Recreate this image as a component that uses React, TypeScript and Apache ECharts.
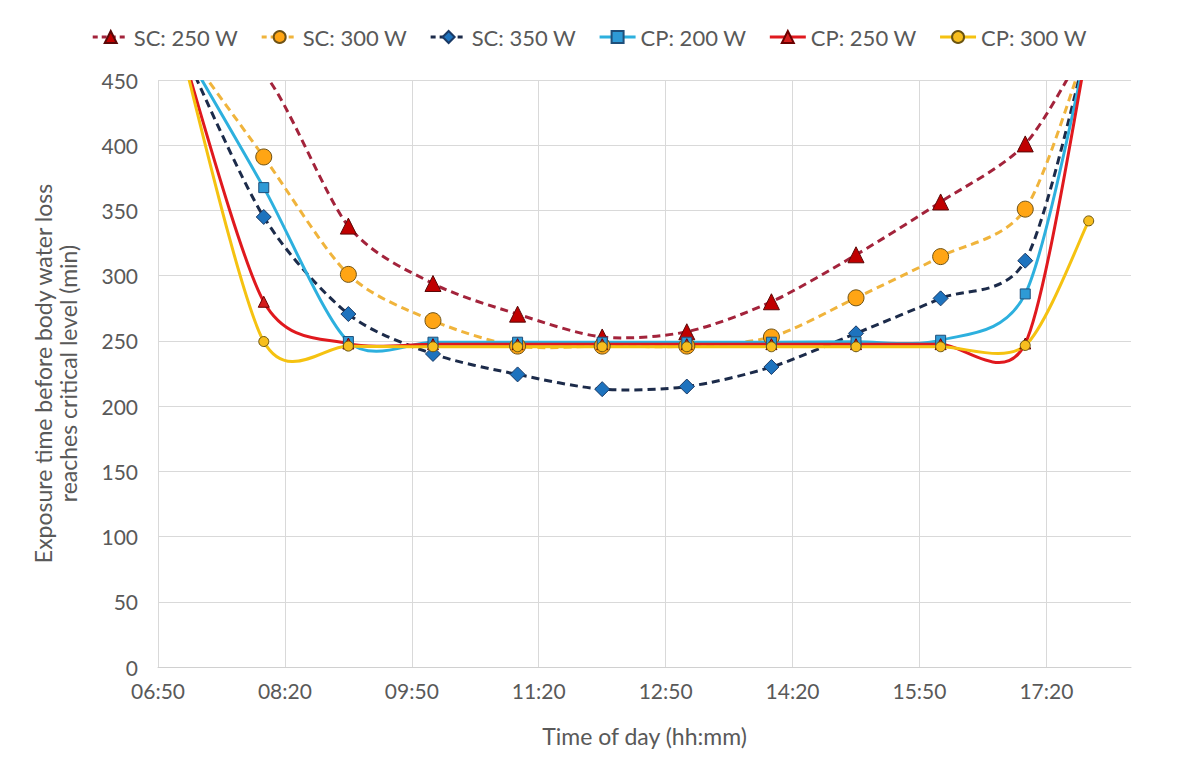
import React, { useEffect, useRef } from 'react';
import * as echarts from 'echarts';

// Sample times (hh:mm)
const timeLabels = ['07:05', '08:05', '09:05', '10:05', '11:05', '12:05', '13:05', '14:05', '15:05', '16:05', '17:05', '17:50'];

// Exposure time (min) per series
const sc250 = [480, 455, 338, 294, 270.5, 253, 257, 280, 316, 356.5, 401, 480];
const sc300 = [480, 391, 301, 265.5, 246, 246, 246, 253, 283, 314.6, 351, 480];
const sc350 = [480, 345, 270.6, 240, 224.3, 213, 215, 230, 255.8, 282.6, 311.5, 480];
const cp200 = [480, 367.5, 249.5, 249, 249, 249, 249, 249, 249.3, 250.5, 286, 480];
const cp250 = [480, 280, 248, 247.5, 247.5, 247.5, 247.5, 247.5, 247.5, 247.5, 248, 480];
const cp300 = [480, 249.5, 246, 245.5, 245.5, 245.5, 245.5, 245.5, 245.5, 245.5, 246.5, 342];

const seriesNames = ['SC: 250 W', 'SC: 300 W', 'SC: 350 W', 'CP: 200 W', 'CP: 250 W', 'CP: 300 W'];
const yTicks = { min: 0, max: 450, step: 50 };
const xTicks = { min: 410, max: 1100, step: 90 }; // minutes after midnight: 06:50 .. 18:20

const toMin = (s: string) => {
  const [h, m] = s.split(':').map(Number);
  return h * 60 + m;
};
const fmt = (m: number) =>
  `${String(Math.floor(m / 60)).padStart(2, '0')}:${String(Math.round(m % 60)).padStart(2, '0')}`;

const times = timeLabels.map(toMin);

const styles = [
  { line: '#A3233B', fill: '#C00000', border: '#5A0808', symbol: 'triangle', size: 16, dashed: true },
  { line: '#F0B43C', fill: '#FFA514', border: '#6E5216', symbol: 'circle', size: 16, dashed: true },
  { line: '#1C2B4A', fill: '#1E73BE', border: '#1A3A66', symbol: 'diamond', size: 15, dashed: true },
  { line: '#2DB0DE', fill: '#2E9AD6', border: '#1F4F7A', symbol: 'rect', size: 10, dashed: false },
  { line: '#E0191E', fill: '#D41E1E', border: '#6B0000', symbol: 'triangle', size: 11, dashed: false },
  { line: '#F5C211', fill: '#F7BE1E', border: '#6B5410', symbol: 'circle', size: 10, dashed: false },
];
const allValues = [sc250, sc300, sc350, cp200, cp250, cp300];
const DASH = [8, 5];
const FONT = 'Lato, "Open Sans", sans-serif';
const TEXT = '#595959';

function curveSeries(idx: number) {
  const values = allValues[idx];
  const st = styles[idx];
  const t = 0.14;
  return {
    type: 'custom',
    name: seriesNames[idx] + ' curve',
    z: 2,
    clip: true,
    silent: true,
    data: times.map((x, i) => [x, values[i]]),
    encode: { x: 0, y: 1 },
    renderItem: (params: any, api: any) => {
      if (params.dataIndexInside !== 0) return null;
      const pts = times.map((x, i) => api.coord([x, values[i]]));
      const n = pts.length;
      let d = `M${pts[0][0]},${pts[0][1]}`;
      for (let i = 0; i < n - 1; i++) {
        const p0 = pts[i > 0 ? i - 1 : i];
        const p1 = pts[i];
        const p2 = pts[i + 1];
        const p3 = pts[i + 2 < n ? i + 2 : i + 1];
        const c1x = p1[0] + (p2[0] - p0[0]) * t;
        const c1y = p1[1] + (p2[1] - p0[1]) * t;
        const c2x = p2[0] - (p3[0] - p1[0]) * t;
        const c2y = p2[1] - (p3[1] - p1[1]) * t;
        d += ` C${c1x},${c1y} ${c2x},${c2y} ${p2[0]},${p2[1]}`;
      }
      return {
        type: 'path',
        shape: { pathData: d },
        style: {
          stroke: st.line,
          lineWidth: 3,
          fill: 'none',
          lineDash: st.dashed ? DASH : null,
        },
      };
    },
  };
}

function markerSeries(idx: number) {
  const values = allValues[idx];
  const st = styles[idx];
  return {
    type: 'line',
    name: seriesNames[idx],
    z: 3,
    clip: true,
    data: times.map((x, i) => [x, values[i]]),
    symbol: st.symbol,
    symbolSize: st.size,
    showSymbol: true,
    itemStyle: { color: st.fill, borderColor: st.border, borderWidth: 1, opacity: 1 },
    lineStyle: { color: st.line, width: 3, opacity: 0, type: st.dashed ? DASH : 'solid' },
  };
}

export default function App() {
  const ref = useRef<HTMLDivElement>(null);
  useEffect(() => {
    document.body.style.margin = '0';
    if (!ref.current) return;
    const chart = echarts.init(ref.current, undefined, { renderer: 'svg' });
    const option: any = {
      animation: false,
      backgroundColor: '#ffffff',
      textStyle: { fontFamily: FONT },
      legend: {
        top: 21,
        left: 'center',
        itemWidth: 36,
        itemHeight: 15,
        itemGap: 22,
        textStyle: { fontSize: 22, color: TEXT, fontFamily: FONT },
        data: seriesNames.map((name, i) => ({
          name,
          lineStyle: {
            color: styles[i].line,
            width: 3,
            opacity: 1,
            type: styles[i].dashed ? [5, 4] : 'solid',
          },
        })),
      },
      grid: { left: 158, right: 47, top: 80, bottom: 100, containLabel: false },
      xAxis: {
        type: 'value',
        min: xTicks.min,
        max: xTicks.max,
        interval: xTicks.step,
        name: 'Time of day (hh:mm)',
        nameLocation: 'middle',
        nameGap: 57,
        nameTextStyle: { fontSize: 23, color: TEXT, fontFamily: FONT },
        axisLine: { show: true, lineStyle: { color: '#D0D0D0', width: 1 } },
        axisTick: { show: false },
        axisLabel: {
          fontSize: 21,
          color: TEXT,
          margin: 13,
          fontFamily: FONT,
          formatter: (v: number) => ((v - xTicks.min) % xTicks.step === 0 ? fmt(v) : ''),
        },
        splitLine: { show: true, showMaxLine: false, lineStyle: { color: '#D9D9D9', width: 1 } },
      },
      yAxis: {
        type: 'value',
        min: yTicks.min,
        max: yTicks.max,
        interval: yTicks.step,
        name: 'Exposure time before body water loss\nreaches critical level (min)',
        nameLocation: 'middle',
        nameGap: 78,
        nameTextStyle: { fontSize: 23, color: TEXT, lineHeight: 25, fontFamily: FONT },
        axisLine: { show: false },
        axisTick: { show: false },
        axisLabel: { fontSize: 21, color: TEXT, margin: 20, fontFamily: FONT },
        splitLine: { show: true, lineStyle: { color: '#D9D9D9', width: 1 } },
      },
      series: [
        ...seriesNames.map((_, i) => curveSeries(i)),
        ...seriesNames.map((_, i) => markerSeries(i)),
      ],
    };
    chart.setOption(option);
    return () => chart.dispose();
  }, []);
  return <div ref={ref} style={{ width: 1178, height: 767 }} />;
}
